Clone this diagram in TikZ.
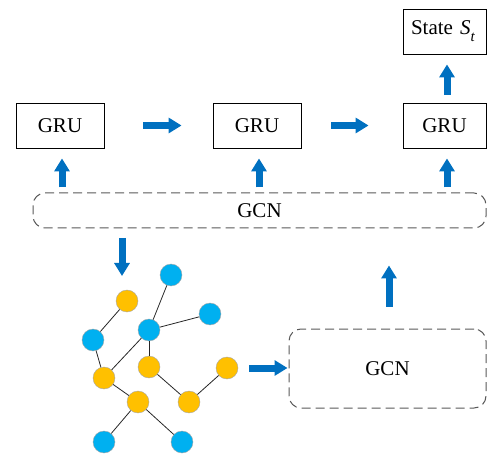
\documentclass[tikz,border=0pt]{standalone}
\usepackage{fontspec}
\setmainfont{Liberation Serif}
\usetikzlibrary{arrows.meta}
\definecolor{arrowblue}{HTML}{0070C0}
\definecolor{nodeblue}{HTML}{00B0F0}
\definecolor{nodeyellow}{HTML}{FFC000}
\definecolor{dashgray}{HTML}{595959}
\tikzset{
  grubox/.style={draw=black, line width=0.9pt, minimum width=88pt, minimum height=45pt, inner sep=0pt, font=\fontsize{21}{25}\selectfont},
  gcnbox/.style={draw=dashgray, line width=1pt, dash pattern=on 9pt off 5pt, rounded corners=12pt, inner sep=0pt, font=\fontsize{21}{25}\selectfont},
  barrow/.style={draw=arrowblue, line width=7pt, -{Triangle[length=13pt,width=15pt]}},
  vb/.style={circle, fill=nodeblue, draw=gray!70, line width=0.4pt, minimum size=22pt, inner sep=0pt},
  vy/.style={circle, fill=nodeyellow, draw=gray!70, line width=0.4pt, minimum size=22pt, inner sep=0pt},
  gedge/.style={draw=black!85, line width=0.8pt}
}
\begin{document}
\begin{tikzpicture}[x=1pt,y=-1pt]
\useasboundingbox (0,0) rectangle (487,454);
% GRU boxes
\node[grubox] (gru1) at (60,125.5) {GRU};
\node[grubox] (gru2) at (257,125.5) {GRU};
\node[grubox, minimum width=83pt] (gru3) at (444.5,125.5) {GRU};
\node[grubox, minimum width=83pt] (state) at (444.5,31.5) {\hspace*{-3pt}State\hspace{7pt}\textit{S}\raisebox{-7pt}{\fontsize{15}{15}\selectfont\textit{t}}};
% GCN boxes
\node[gcnbox, minimum width=453pt, minimum height=35pt] (gcn1) at (259.5,210.5) {GCN};
\node[gcnbox, minimum width=197pt, minimum height=79pt] (gcn2) at (387.5,368.5) {GCN};
% arrows
\draw[barrow, shorten <=39pt, shorten >=31pt] (gru1.east) -- (gru2.west);
\draw[barrow, shorten <=30pt, shorten >=34pt] (gru2.east) -- (gru3.west);
\draw[barrow, shorten <=8pt, shorten >=10pt] ([xshift=2.5pt]gru3.north) -- ([xshift=2.5pt]state.south);
\draw[barrow, shorten <=5pt, shorten >=10pt] ([xshift=2pt]gru1.south |- gcn1.north) -- ([xshift=2pt]gru1.south);
\draw[barrow, shorten <=5pt, shorten >=10pt] ([xshift=2pt]gru2.south |- gcn1.north) -- ([xshift=2pt]gru2.south);
\draw[barrow, shorten <=5pt, shorten >=10pt] ([xshift=2.5pt]gru3.south |- gcn1.north) -- ([xshift=2.5pt]gru3.south);
% graph nodes
\node[vb] (bt) at (171,275) {};
\node[vy] (ya) at (127,301) {};
\node[vb] (br) at (210,314) {};
\node[vb] (bc) at (149,330) {};
\node[vb] (bl) at (93,340) {};
\node[vy] (yc) at (149,367) {};
\node[vy] (yr) at (227,368) {};
\node[vy] (yl) at (104,378) {};
\node[vy] (ym) at (138,402) {};
\node[vy] (yrl) at (189,402) {};
\node[vb] (bbl) at (104,442) {};
\node[vb] (bbr) at (182,442) {};
\draw[gedge] (ya) -- (bl);
\draw[gedge] (bl) -- (yl);
\draw[gedge] (yl) -- (bc);
\draw[gedge] (bc) -- (bt);
\draw[gedge] (bc) -- (br);
\draw[gedge] (bc) -- (yc);
\draw[gedge] (yc) -- (yrl);
\draw[gedge] (yrl) -- (yr);
\draw[gedge] (yl) -- (ym);
\draw[gedge] (ym) -- (bbl);
\draw[gedge] (ym) -- (bbr);
% arrow from GCN to graph
\coordinate (dstart) at (122,238);
\coordinate (dend) at (122,276);
\draw[barrow] (dstart) -- (dend);
% arrow from graph to GCN2
\draw[barrow, shorten <=11pt, shorten >=1pt] (yr.east) -- (yr.east -| gcn2.west);
% arrow from GCN2 up
\draw[barrow, shorten <=22pt, shorten >=37pt] ([xshift=1.5pt]gcn2.north) -- ([xshift=1.5pt]gcn2.north |- gcn1.south);
\end{tikzpicture}
\end{document}
